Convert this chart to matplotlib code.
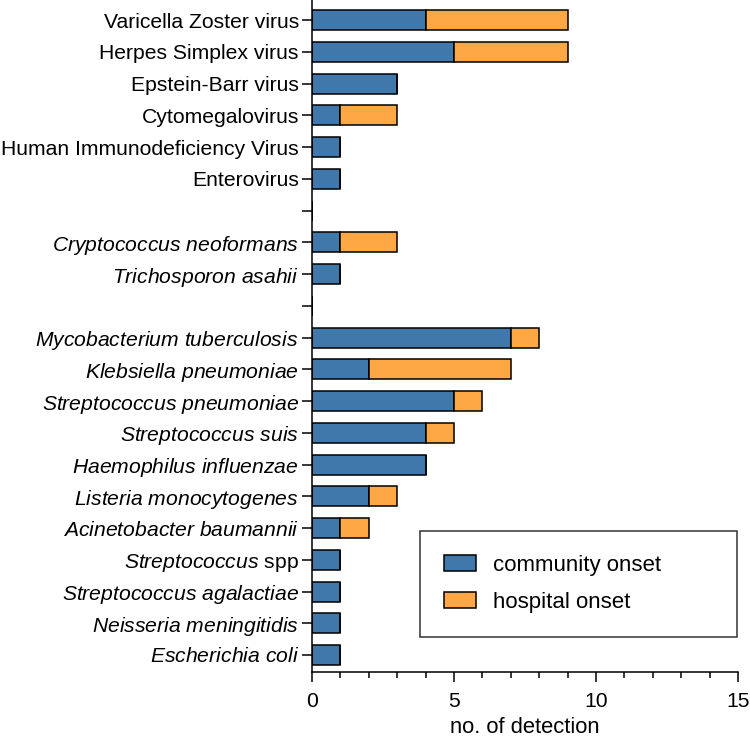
import matplotlib
matplotlib.use("Agg")
import matplotlib.pyplot as plt
from matplotlib.ticker import MultipleLocator

plt.rcParams['font.family'] = ['Liberation Sans', 'DejaVu Sans']
plt.rcParams['mathtext.fontset'] = 'custom'
plt.rcParams['mathtext.it'] = 'Liberation Sans:italic'
plt.rcParams['mathtext.rm'] = 'Liberation Sans'

categories = [
    "Varicella Zoster virus", "Herpes Simplex virus", "Epstein-Barr virus",
    "Cytomegalovirus", "Human Immunodeficiency Virus", "Enterovirus", "",
    "Cryptococcus neoformans", "Trichosporon asahii", "",
    "Mycobacterium tuberculosis", "Klebsiella pneumoniae", "Streptococcus pneumoniae",
    "Streptococcus suis", "Haemophilus influenzae", "Listeria monocytogenes",
    "Acinetobacter baumannii", "Streptococcus spp", "Streptococcus agalactiae",
    "Neisseria meningitidis", "Escherichia coli",
]
italic = [False]*7 + [True, True, False] + [True]*11
community = [4, 5, 3, 1, 1, 1, 0, 1, 1, 0, 7, 2, 5, 4, 4, 2, 1, 1, 1, 1, 1]
hospital  = [5, 4, 0, 2, 0, 0, 0, 2, 0, 0, 1, 5, 1, 1, 0, 1, 1, 0, 0, 0, 0]

blue = "#4178AC"
orange = "#FDA845"
FS = 15.2

fig = plt.figure(figsize=(7.5, 7.39), dpi=100)
ax = fig.add_axes([0.416, 0.0907, 0.568, 0.909])

pos = list(range(len(categories)))
h = 0.63
ax.barh(pos, community, height=h, color=blue, edgecolor="black", linewidth=1.1, label="community onset")
ax.barh(pos, hospital, left=community, height=h, color=orange, edgecolor="black", linewidth=1.1, label="hospital onset")

labels = []
for c, it in zip(categories, italic):
    if c == "Streptococcus spp":
        labels.append(r"$\mathit{Streptococcus}$ spp")
    elif it and c:
        labels.append(r"$\mathit{" + c.replace(" ", r"\ ") + "}$")
    else:
        labels.append(c)
ax.set_yticks(pos)
ax.set_yticklabels(labels, fontsize=FS)

ax.set_ylim(20.535, -0.63)
ax.set_xlim(0, 15)
ax.xaxis.set_major_locator(MultipleLocator(5))
ax.xaxis.set_minor_locator(MultipleLocator(1))
ax.tick_params(axis='x', which='major', length=7.5, width=1.1, labelsize=FS, pad=7)
ax.tick_params(axis='x', which='minor', length=4, width=1.1)
ax.tick_params(axis='y', length=7.5, width=1.1, pad=2)
for s in ['top', 'right']:
    ax.spines[s].set_visible(False)
for s in ['left', 'bottom']:
    ax.spines[s].set_linewidth(1.1)
ax.set_xlabel("no. of detection", fontsize=15.8, labelpad=4)

leg = ax.legend(loc='lower left', bbox_to_anchor=(0.2535, 0.052, 0.744, 0.168), mode='expand',
                fontsize=16, frameon=True, fancybox=False, edgecolor="black", borderpad=1.1,
                handlelength=1.4, handleheight=0.75, labelspacing=0.7, handletextpad=0.8,
                borderaxespad=0)
leg.get_frame().set_linewidth(1.1)
leg.get_frame().set_facecolor("white")

fig.savefig("out.png", dpi=100)
